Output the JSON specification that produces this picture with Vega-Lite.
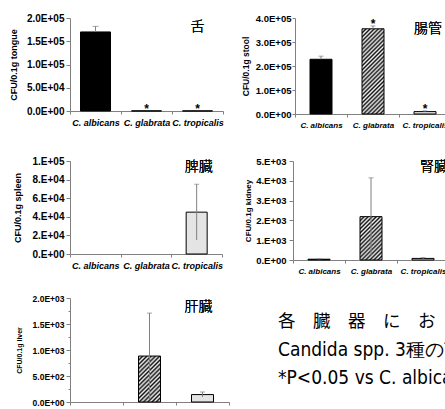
{
"$schema":"https://vega.github.io/schema/vega-lite/v6.json",
"padding":{"left":9,"top":13,"right":0,"bottom":0},
"background":"white",
"datasets":{
 "tongue":[{"species":"C. albicans","cfu":170000,"lo":170000,"hi":182000,"sig":""},{"species":"C. glabrata","cfu":300,"lo":300,"hi":300,"sig":"*"},{"species":"C. tropicalis","cfu":300,"lo":300,"hi":300,"sig":"*"}],
 "stool":[{"species":"C. albicans","cfu":228000,"lo":228000,"hi":241000,"sig":""},{"species":"C. glabrata","cfu":355000,"lo":355000,"hi":367000,"sig":"*"},{"species":"C. tropicalis","cfu":10000,"lo":10000,"hi":13000,"sig":"*"}],
 "spleen":[{"species":"C. albicans","cfu":0,"lo":0,"hi":0,"sig":""},{"species":"C. glabrata","cfu":0,"lo":0,"hi":0,"sig":""},{"species":"C. tropicalis","cfu":45000,"lo":15000,"hi":75000,"sig":""}],
 "kidney":[{"species":"C. albicans","cfu":40,"lo":40,"hi":60,"sig":""},{"species":"C. glabrata","cfu":2190,"lo":230,"hi":4150,"sig":""},{"species":"C. tropicalis","cfu":80,"lo":60,"hi":120,"sig":""}],
 "liver":[{"species":"C. albicans","cfu":0,"lo":0,"hi":0,"sig":""},{"species":"C. glabrata","cfu":884,"lo":60,"hi":1710,"sig":""},{"species":"C. tropicalis","cfu":143,"lo":95,"hi":193,"sig":""}],
 "note":[{"line":1,"text":"各　臓　器　に　お　け　る"},{"line":2,"text":"Candida spp. 3種の菌数"},{"line":3,"text":"*P<0.05 vs C. albicans"}]
},
"spacing":19,
"vconcat":[
 {"spacing":27,"vconcat":[
 {"hconcat":[
  {"width":153,"height":93,"data":{"name":"tongue"},
   "encoding":{
    "x":{"field":"species","type":"nominal","title":null,"scale":{"domain":["C. albicans","C. glabrata","C. tropicalis"],"paddingInner":0,"paddingOuter":0}},
    "y":{"field":"cfu","type":"quantitative","title":"CFU/0.1g tongue","scale":{"domain":[0,200000]},"axis":{"values":[0,50000,100000,150000,200000],"labelExpr":"replace(format(datum.value,'.1e'),'e+','E+0')","labelFontSize":10,"titleFontSize":9,"titlePadding":8}}},
   "layer":[
    {"transform":[{"filter":"datum.species=='C. albicans'"}],"mark":{"type":"bar","width":30,"fill":"#000","stroke":"#000","strokeWidth":1}},
    {"transform":[{"filter":"datum.species=='C. glabrata'"}],"mark":{"type":"bar","width":30,"fill":"#555","stroke":"#000","strokeWidth":1}},
    {"transform":[{"filter":"datum.species=='C. tropicalis'"}],"mark":{"type":"bar","width":30,"fill":"#e4e4e4","stroke":"#000","strokeWidth":1}},
    {"mark":{"type":"rule","color":"#808080"},"encoding":{"y":{"field":"lo","type":"quantitative","title":"CFU/0.1g tongue","scale":{"domain":[0,200000]}},"y2":{"field":"hi"}}},
    {"transform":[{"filter":"datum.hi > datum.cfu"}],"mark":{"type":"tick","color":"#808080","size":6,"thickness":1},"encoding":{"y":{"field":"hi","type":"quantitative","title":"CFU/0.1g tongue","scale":{"domain":[0,200000]}}}},
    {"transform":[{"filter":"datum.sig == '*'"}],"mark":{"type":"text","fontSize":12,"fontWeight":"bold","baseline":"alphabetic","dy":2},"encoding":{"y":{"field":"hi","type":"quantitative","title":"CFU/0.1g tongue","scale":{"domain":[0,200000]}},"text":{"field":"sig"}}},
    {"mark":{"type":"text","font":"Noto Sans CJK JP","fontSize":14,"fontWeight":300,"baseline":"middle"},"encoding":{"x":{"datum":"C. tropicalis"},"y":{"datum":180600,"type":"quantitative","title":"CFU/0.1g tongue","scale":{"domain":[0,200000]}},"text":{"value":"舌"}}}
   ]},
  {"width":156,"height":96,"data":{"name":"stool"},
   "encoding":{
    "x":{"field":"species","type":"nominal","title":null,"scale":{"domain":["C. albicans","C. glabrata","C. tropicalis"],"paddingInner":0,"paddingOuter":0},"axis":{"labelFontSize":8}},
    "y":{"field":"cfu","type":"quantitative","title":"CFU/0.1g stool","scale":{"domain":[0,400000]},"axis":{"values":[0,100000,200000,300000,400000],"labelExpr":"replace(format(datum.value,'.1e'),'e+','E+0')","titleFontSize":8.5,"labelFontSize":9.5,"titlePadding":5,"tickSize":3,"labelPadding":1}}},
   "layer":[
    {"transform":[{"filter":"datum.species=='C. albicans'"}],"mark":{"type":"bar","width":22,"fill":"#000","stroke":"#000","strokeWidth":1}},
    {"transform":[{"filter":"datum.species=='C. glabrata'"}],"mark":{"type":"bar","width":22,"stroke":"#000","strokeWidth":1,"fill":{"gradient":"linear","x1":0,"y1":0,"x2":0.3054,"y2":1.18,"stops":[
{"offset":0,"color":"#111"},{"offset":0.0192,"color":"#f2f2f2"},{"offset":0.0385,"color":"#111"},{"offset":0.0577,"color":"#f2f2f2"},{"offset":0.0769,"color":"#111"},{"offset":0.0962,"color":"#f2f2f2"},{"offset":0.1154,"color":"#111"},{"offset":0.1346,"color":"#f2f2f2"},{"offset":0.1538,"color":"#111"},{"offset":0.1731,"color":"#f2f2f2"},{"offset":0.1923,"color":"#111"},{"offset":0.2115,"color":"#f2f2f2"},{"offset":0.2308,"color":"#111"},{"offset":0.25,"color":"#f2f2f2"},{"offset":0.2692,"color":"#111"},{"offset":0.2885,"color":"#f2f2f2"},{"offset":0.3077,"color":"#111"},{"offset":0.3269,"color":"#f2f2f2"},{"offset":0.3462,"color":"#111"},{"offset":0.3654,"color":"#f2f2f2"},{"offset":0.3846,"color":"#111"},{"offset":0.4038,"color":"#f2f2f2"},{"offset":0.4231,"color":"#111"},{"offset":0.4423,"color":"#f2f2f2"},{"offset":0.4615,"color":"#111"},{"offset":0.4808,"color":"#f2f2f2"},{"offset":0.5,"color":"#111"},{"offset":0.5192,"color":"#f2f2f2"},{"offset":0.5385,"color":"#111"},{"offset":0.5577,"color":"#f2f2f2"},{"offset":0.5769,"color":"#111"},{"offset":0.5962,"color":"#f2f2f2"},{"offset":0.6154,"color":"#111"},{"offset":0.6346,"color":"#f2f2f2"},{"offset":0.6538,"color":"#111"},{"offset":0.6731,"color":"#f2f2f2"},{"offset":0.6923,"color":"#111"},{"offset":0.7115,"color":"#f2f2f2"},{"offset":0.7308,"color":"#111"},{"offset":0.75,"color":"#f2f2f2"},{"offset":0.7692,"color":"#111"},{"offset":0.7885,"color":"#f2f2f2"},{"offset":0.8077,"color":"#111"},{"offset":0.8269,"color":"#f2f2f2"},{"offset":0.8462,"color":"#111"},{"offset":0.8654,"color":"#f2f2f2"},{"offset":0.8846,"color":"#111"},{"offset":0.9038,"color":"#f2f2f2"},{"offset":0.9231,"color":"#111"},{"offset":0.9423,"color":"#f2f2f2"},{"offset":0.9615,"color":"#111"},{"offset":0.9808,"color":"#f2f2f2"},{"offset":1,"color":"#111"}]}}},
    {"transform":[{"filter":"datum.species=='C. tropicalis'"}],"mark":{"type":"bar","width":22,"fill":"#e4e4e4","stroke":"#000","strokeWidth":1}},
    {"mark":{"type":"rule","color":"#808080"},"encoding":{"y":{"field":"lo","type":"quantitative","title":"CFU/0.1g stool","scale":{"domain":[0,400000]}},"y2":{"field":"hi"}}},
    {"transform":[{"filter":"datum.hi > datum.cfu"}],"mark":{"type":"tick","color":"#808080","size":5,"thickness":1},"encoding":{"y":{"field":"hi","type":"quantitative","title":"CFU/0.1g stool","scale":{"domain":[0,400000]}}}},
    {"transform":[{"filter":"datum.sig == '*'"}],"mark":{"type":"text","fontSize":12,"fontWeight":"bold","baseline":"alphabetic","dy":2},"encoding":{"y":{"field":"hi","type":"quantitative","title":"CFU/0.1g stool","scale":{"domain":[0,400000]}},"text":{"field":"sig"}}},
    {"mark":{"type":"text","font":"Noto Sans CJK JP","fontSize":14,"fontWeight":300,"baseline":"middle","dx":3},"encoding":{"x":{"datum":"C. tropicalis"},"y":{"datum":354000,"type":"quantitative","title":"CFU/0.1g stool","scale":{"domain":[0,400000]}},"text":{"value":"腸管"}}}
   ]}
 ],"spacing":17},
 {"hconcat":[
  {"width":152,"height":93,"data":{"name":"spleen"},
   "encoding":{
    "x":{"field":"species","type":"nominal","title":null,"scale":{"domain":["C. albicans","C. glabrata","C. tropicalis"],"paddingInner":0,"paddingOuter":0}},
    "y":{"field":"cfu","type":"quantitative","title":"CFU/0.1g spleen","scale":{"domain":[0,100000]},"axis":{"values":[0,20000,40000,60000,80000,100000],"labelExpr":"replace(format(datum.value,'.0e'),'e+','.E+0')","labelFontSize":10,"titleFontSize":9,"titlePadding":10}}},
   "layer":[
    {"transform":[{"filter":"datum.species=='C. tropicalis'"}],"mark":{"type":"bar","width":21,"fill":"#e4e4e4","stroke":"#000","strokeWidth":1}},
    {"mark":{"type":"rule","color":"#808080"},"encoding":{"y":{"field":"lo","type":"quantitative","title":"CFU/0.1g spleen","scale":{"domain":[0,100000]}},"y2":{"field":"hi"}}},
    {"transform":[{"filter":"datum.hi > datum.cfu"}],"mark":{"type":"tick","color":"#808080","size":5,"thickness":1},"encoding":{"y":{"field":"hi","type":"quantitative","title":"CFU/0.1g spleen","scale":{"domain":[0,100000]}}}},
    {"mark":{"type":"text","font":"Noto Sans CJK JP","fontSize":14,"fontWeight":300,"baseline":"middle","dx":2},"encoding":{"x":{"datum":"C. tropicalis"},"y":{"datum":93500,"type":"quantitative","title":"CFU/0.1g spleen","scale":{"domain":[0,100000]}},"text":{"value":"脾臓"}}}
   ]},
  {"width":156,"height":99,"data":{"name":"kidney"},
   "encoding":{
    "x":{"field":"species","type":"nominal","title":null,"scale":{"domain":["C. albicans","C. glabrata","C. tropicalis"],"paddingInner":0,"paddingOuter":0},"axis":{"labelFontSize":8}},
    "y":{"field":"cfu","type":"quantitative","title":"CFU/0.1g kidney","scale":{"domain":[0,5000]},"axis":{"values":[0,1000,2000,3000,4000,5000],"labelExpr":"replace(format(datum.value,'.0e'),'e+','.E+0')","titleFontSize":8,"labelFontSize":9.5,"titlePadding":3,"tickSize":4,"labelPadding":3}}},
   "layer":[
    {"transform":[{"filter":"datum.species=='C. albicans'"}],"mark":{"type":"bar","width":22,"fill":"#000","stroke":"#000","strokeWidth":1}},
    {"transform":[{"filter":"datum.species=='C. glabrata'"}],"mark":{"type":"bar","width":22,"stroke":"#000","strokeWidth":1,"fill":{"gradient":"linear","x1":0,"y1":0,"x2":0.6077,"y2":1.1988,"stops":[
{"offset":0,"color":"#111"},{"offset":0.03125,"color":"#f2f2f2"},{"offset":0.0625,"color":"#111"},{"offset":0.09375,"color":"#f2f2f2"},{"offset":0.125,"color":"#111"},{"offset":0.15625,"color":"#f2f2f2"},{"offset":0.1875,"color":"#111"},{"offset":0.21875,"color":"#f2f2f2"},{"offset":0.25,"color":"#111"},{"offset":0.28125,"color":"#f2f2f2"},{"offset":0.3125,"color":"#111"},{"offset":0.34375,"color":"#f2f2f2"},{"offset":0.375,"color":"#111"},{"offset":0.40625,"color":"#f2f2f2"},{"offset":0.4375,"color":"#111"},{"offset":0.46875,"color":"#f2f2f2"},{"offset":0.5,"color":"#111"},{"offset":0.53125,"color":"#f2f2f2"},{"offset":0.5625,"color":"#111"},{"offset":0.59375,"color":"#f2f2f2"},{"offset":0.625,"color":"#111"},{"offset":0.65625,"color":"#f2f2f2"},{"offset":0.6875,"color":"#111"},{"offset":0.71875,"color":"#f2f2f2"},{"offset":0.75,"color":"#111"},{"offset":0.78125,"color":"#f2f2f2"},{"offset":0.8125,"color":"#111"},{"offset":0.84375,"color":"#f2f2f2"},{"offset":0.875,"color":"#111"},{"offset":0.90625,"color":"#f2f2f2"},{"offset":0.9375,"color":"#111"},{"offset":0.96875,"color":"#f2f2f2"},{"offset":1,"color":"#111"}]}}},
    {"transform":[{"filter":"datum.species=='C. tropicalis'"}],"mark":{"type":"bar","width":22,"fill":"#e4e4e4","stroke":"#000","strokeWidth":1}},
    {"mark":{"type":"rule","color":"#808080"},"encoding":{"y":{"field":"lo","type":"quantitative","title":"CFU/0.1g kidney","scale":{"domain":[0,5000]}},"y2":{"field":"hi"}}},
    {"transform":[{"filter":"datum.hi > datum.cfu"}],"mark":{"type":"tick","color":"#808080","size":5,"thickness":1},"encoding":{"y":{"field":"hi","type":"quantitative","title":"CFU/0.1g kidney","scale":{"domain":[0,5000]}}}},
    {"mark":{"type":"text","font":"Noto Sans CJK JP","fontSize":14,"fontWeight":300,"baseline":"middle","dx":11},"encoding":{"x":{"datum":"C. tropicalis"},"y":{"datum":4700,"type":"quantitative","title":"CFU/0.1g kidney","scale":{"domain":[0,5000]}},"text":{"value":"腎臓"}}}
   ]}
 ],"spacing":21}
 ]},
 {"bounds":"flush","hconcat":[
  {"width":159,"height":104,"data":{"name":"liver"},
   "encoding":{
    "x":{"field":"species","type":"nominal","title":null,"scale":{"domain":["C. albicans","C. glabrata","C. tropicalis"],"paddingInner":0,"paddingOuter":0}},
    "y":{"field":"cfu","type":"quantitative","title":"CFU/0.1g liver","scale":{"domain":[0,2000]},"axis":{"values":[0,250,500,750,1000,1250,1500,1750,2000],"labelExpr":"datum.value % 500 == 0 ? replace(format(datum.value,'.1e'),'e+','E+0') : ''","tickSize":{"condition":{"test":"datum.value % 500 == 0","value":4},"value":2},"titleFontSize":7,"labelFontSize":8.5,"titlePadding":10}}},
   "layer":[
    {"transform":[{"filter":"datum.species=='C. glabrata'"}],"mark":{"type":"bar","width":22,"stroke":"#000","strokeWidth":1,"fill":{"gradient":"linear","x1":0,"y1":0,"x2":0.5754,"y2":1.2031,"stops":[
{"offset":0,"color":"#111"},{"offset":0.03125,"color":"#f2f2f2"},{"offset":0.0625,"color":"#111"},{"offset":0.09375,"color":"#f2f2f2"},{"offset":0.125,"color":"#111"},{"offset":0.15625,"color":"#f2f2f2"},{"offset":0.1875,"color":"#111"},{"offset":0.21875,"color":"#f2f2f2"},{"offset":0.25,"color":"#111"},{"offset":0.28125,"color":"#f2f2f2"},{"offset":0.3125,"color":"#111"},{"offset":0.34375,"color":"#f2f2f2"},{"offset":0.375,"color":"#111"},{"offset":0.40625,"color":"#f2f2f2"},{"offset":0.4375,"color":"#111"},{"offset":0.46875,"color":"#f2f2f2"},{"offset":0.5,"color":"#111"},{"offset":0.53125,"color":"#f2f2f2"},{"offset":0.5625,"color":"#111"},{"offset":0.59375,"color":"#f2f2f2"},{"offset":0.625,"color":"#111"},{"offset":0.65625,"color":"#f2f2f2"},{"offset":0.6875,"color":"#111"},{"offset":0.71875,"color":"#f2f2f2"},{"offset":0.75,"color":"#111"},{"offset":0.78125,"color":"#f2f2f2"},{"offset":0.8125,"color":"#111"},{"offset":0.84375,"color":"#f2f2f2"},{"offset":0.875,"color":"#111"},{"offset":0.90625,"color":"#f2f2f2"},{"offset":0.9375,"color":"#111"},{"offset":0.96875,"color":"#f2f2f2"},{"offset":1,"color":"#111"}]}}},
    {"transform":[{"filter":"datum.species=='C. tropicalis'"}],"mark":{"type":"bar","width":22,"fill":"#e4e4e4","stroke":"#000","strokeWidth":1}},
    {"mark":{"type":"rule","color":"#808080"},"encoding":{"y":{"field":"lo","type":"quantitative","title":"CFU/0.1g liver","scale":{"domain":[0,2000]}},"y2":{"field":"hi"}}},
    {"transform":[{"filter":"datum.hi > datum.cfu"}],"mark":{"type":"tick","color":"#808080","size":5,"thickness":1},"encoding":{"y":{"field":"hi","type":"quantitative","title":"CFU/0.1g liver","scale":{"domain":[0,2000]}}}},
    {"mark":{"type":"text","font":"Noto Sans CJK JP","fontSize":14,"fontWeight":300,"baseline":"middle","dx":-4},"encoding":{"x":{"datum":"C. tropicalis"},"y":{"datum":1827,"type":"quantitative","title":"CFU/0.1g liver","scale":{"domain":[0,2000]}},"text":{"value":"肝臓"}}}
   ]},
  {"width":170,"height":104,"data":{"name":"note"},
   "encoding":{
    "y":{"field":"line","type":"ordinal","axis":null,"scale":{"padding":0.857}},
    "x":{"value":0},
    "text":{"field":"text"}},
   "layer":[
    {"transform":[{"filter":"datum.line == 1"}],"mark":{"type":"text","align":"left","baseline":"middle","fontSize":17.5,"fontWeight":400,"font":"Noto Sans CJK JP"}},
    {"transform":[{"filter":"datum.line > 1"}],"mark":{"type":"text","align":"left","baseline":"middle","fontSize":19,"font":"DejaVu Sans Condensed, Liberation Sans, sans-serif"}}
   ]}
 ],"spacing":49}
],
"config":{
 "view":{"stroke":null},
 "font":"Liberation Sans",
 "axis":{"grid":false,"domainColor":"#808080","tickColor":"#808080","labelColor":"#000","titleColor":"#000","labelFont":"Liberation Sans","titleFont":"Liberation Sans","labelFontWeight":"bold","titleFontWeight":"bold","tickSize":3},
 "axisX":{"labelFontStyle":"italic","labelAngle":0,"labelPadding":4,"tickBand":"extent","labelFontSize":9},
 "axisY":{"labelFontSize":8.5,"titleFontSize":8.5,"titlePadding":8,"labelPadding":2,"tickSize":4},
 "title":{"font":"Noto Sans CJK JP","fontSize":13,"fontWeight":"normal","color":"#000"}
}
}
